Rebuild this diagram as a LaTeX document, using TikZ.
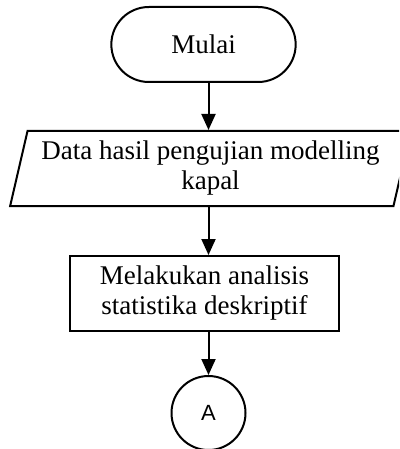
\documentclass[tikz,border=0pt]{standalone}
\usepackage{fontspec}
\setmainfont{Liberation Serif}
\newfontfamily\connfont{Liberation Sans}
\usetikzlibrary{shapes.misc, shapes.geometric, arrows.meta}

\begin{document}
\begin{tikzpicture}[
        x=1pt, y=-1pt,
        term/.style={draw, rounded rectangle, line width=2pt, minimum width=191pt, minimum height=75pt, font=\fontsize{27}{30}\selectfont},
        io/.style={draw, trapezium, trapezium left angle=75, trapezium right angle=105, trapezium stretches=true, line width=2pt, minimum width=402pt, minimum height=75pt, align=center, font=\fontsize{27}{30}\selectfont},
        proc/.style={draw, rectangle, line width=2pt, minimum width=269pt, minimum height=75pt, align=center, font=\fontsize{27}{30}\selectfont},
        conn/.style={draw, circle, line width=2pt, minimum size=74pt, inner sep=0pt, font=\connfont\fontsize{22}{24}\selectfont},
        arrow/.style={-{Triangle[length=16pt, width=14pt]}, line width=2pt}
    ]
        \useasboundingbox (0,0) rectangle (399,449);
        \clip (0,0) rectangle (399,449);

        % Nodes (Absolute positioning)
        \node[term] (mulai) at (203.5, 44.5) {Mulai};
        \node[io] (data) at (210.5, 168.5) {Data hasil pengujian modelling\\kapal};
        \node[proc] (analisis) at (204.5, 293.5) {Melakukan analisis\\statistika deskriptif};
        \node[conn] (a) at (208.5, 413) {A};

        % Arrows
        \draw[arrow] (mulai.south -| a) -- (data.north -| a);
        \draw[arrow] (data.south -| a) -- (analisis.north -| a);
        \draw[arrow] (analisis.south -| a) -- (a);

    \end{tikzpicture}
\end{document}
